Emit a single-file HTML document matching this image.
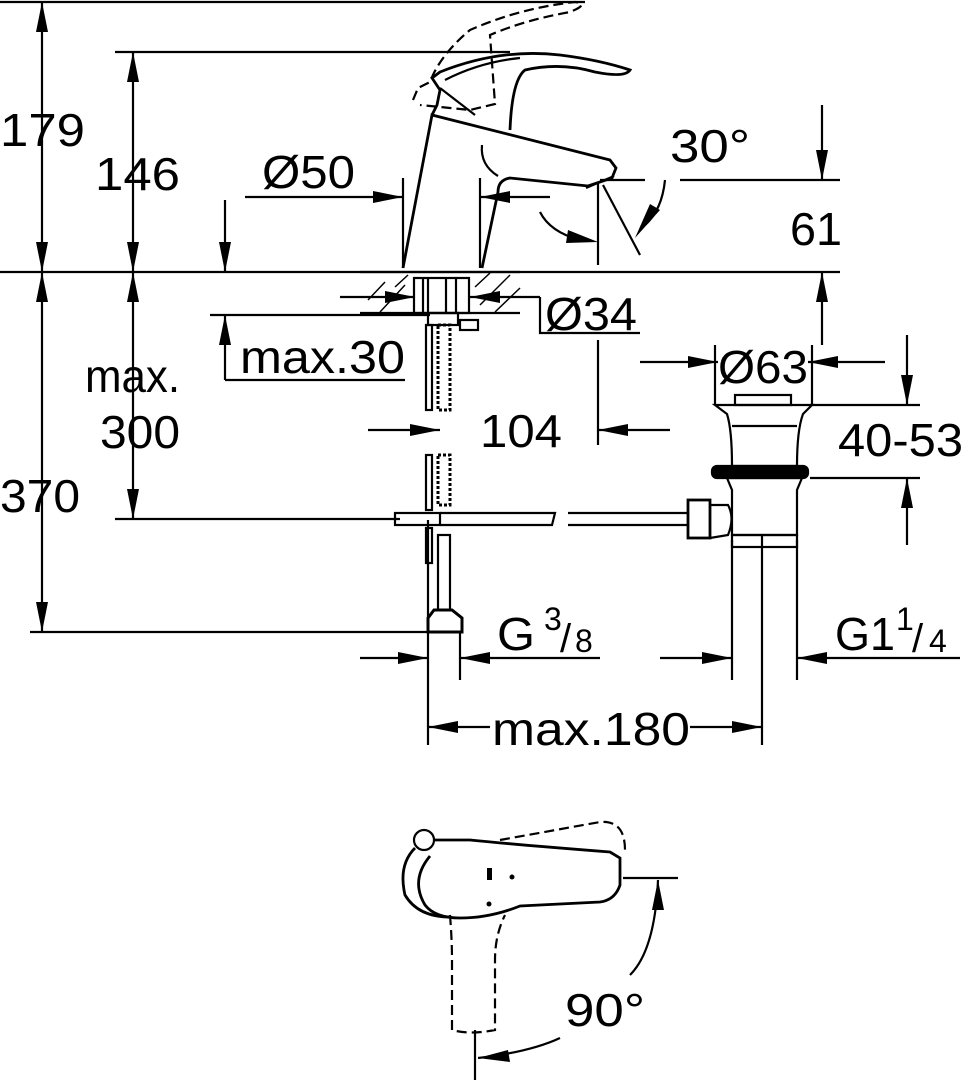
<!DOCTYPE html>
<html><head><meta charset="utf-8"><style>
html,body{margin:0;padding:0;background:#fff}
svg{display:block}
text{font-family:"Liberation Sans",sans-serif;fill:#000}
</style></head><body>
<svg width="963" height="1080" viewBox="0 0 963 1080" xmlns="http://www.w3.org/2000/svg">
<g stroke="#000" stroke-width="2.2" fill="none">
<line x1="0" y1="2" x2="585" y2="2"/>
<line x1="115" y1="52" x2="510" y2="52"/>
<line x1="0" y1="272" x2="840" y2="272"/>
<line x1="30" y1="632" x2="440" y2="632"/>
<line x1="115" y1="519" x2="400" y2="519"/>
<line x1="42" y1="2" x2="42" y2="632"/>
<line x1="133" y1="52" x2="133" y2="519"/>
<line x1="225" y1="200" x2="225" y2="272"/>
<line x1="225" y1="315" x2="225" y2="380"/>
<line x1="210" y1="315" x2="430" y2="315"/>
<line x1="225" y1="380" x2="405" y2="380"/>
<line x1="245" y1="197" x2="403" y2="197"/>
<line x1="480" y1="197" x2="550" y2="197"/>
<line x1="403" y1="178" x2="403" y2="268"/>
<line x1="480" y1="178" x2="480" y2="268"/>
<line x1="340" y1="297" x2="415" y2="297"/>
<line x1="470" y1="297" x2="540" y2="297"/>
<polyline points="540,297 540,333 640,333"/>
<line x1="360" y1="313" x2="520" y2="313"/>
<line x1="600" y1="180" x2="645" y2="180"/>
<line x1="680" y1="180" x2="840" y2="180"/>
<line x1="822" y1="105" x2="822" y2="180"/>
<line x1="822" y1="272" x2="822" y2="345"/>
<line x1="598" y1="182" x2="598" y2="265"/>
<line x1="603" y1="185" x2="640" y2="255"/>
<path d="M665,180 Q662,210 645,225"/>
<path d="M540,212 Q550,232 580,240"/>
<line x1="368" y1="430" x2="440" y2="430"/>
<line x1="598" y1="430" x2="670" y2="430"/>
<line x1="598" y1="340" x2="598" y2="445"/>
<line x1="640" y1="362" x2="718" y2="362"/>
<line x1="808" y1="362" x2="885" y2="362"/>
<line x1="715" y1="345" x2="715" y2="405"/>
<line x1="812" y1="345" x2="812" y2="405"/>
<line x1="810" y1="405" x2="920" y2="405"/>
<line x1="810" y1="478" x2="920" y2="478"/>
<line x1="907" y1="335" x2="907" y2="405"/>
<line x1="907" y1="478" x2="907" y2="545"/>
<line x1="360" y1="658" x2="428" y2="658"/>
<line x1="460" y1="658" x2="600" y2="658"/>
<line x1="428" y1="520" x2="428" y2="745"/>
<line x1="460" y1="632" x2="460" y2="680"/>
<line x1="660" y1="658" x2="732" y2="658"/>
<line x1="797" y1="658" x2="960" y2="658"/>
<line x1="732" y1="540" x2="732" y2="680"/>
<line x1="797" y1="540" x2="797" y2="680"/>
<line x1="762" y1="535" x2="762" y2="745"/>
<line x1="428" y1="727" x2="490" y2="727"/>
<line x1="690" y1="727" x2="762" y2="727"/>

<path d="M403,268 L432,115 L610,160 L616,168 L612,178 L588,186 L510,178 Q498,180 498,192 L482,268" stroke-width="2.8"/>
<path d="M482,145 Q480,165 498,176"/>
<path d="M586,188 L614,176"/>
<path d="M432,115 L437,105 L440,90 L432,78 L440,72 Q500,48 560,55 Q600,60 630,70 Q625,78 595,72 Q560,62 525,70 Q512,80 510,130" stroke-width="2.8"/>
<path d="M440,88 L475,115"/>
<path d="M445,80 Q480,62 520,58"/>
<path d="M413,100 L418,88 L430,82 Q440,55 470,30 Q520,8 575,2 Q590,4 570,12 Q525,20 490,35 L495,104 L470,110 L420,105" stroke-dasharray="10,5"/>
<line x1="360" y1="272" x2="520" y2="272"/>
<g stroke-width="1.5">
<line x1="368" y1="300" x2="385" y2="282"/><line x1="380" y1="312" x2="405" y2="285"/>
<line x1="395" y1="287" x2="408" y2="275"/><line x1="475" y1="287" x2="490" y2="273"/>
<line x1="480" y1="305" x2="510" y2="275"/><line x1="495" y1="312" x2="520" y2="288"/>
</g>
<rect x="414" y="278" width="55" height="35"/>
<line x1="423" y1="278" x2="423" y2="313"/><line x1="428" y1="278" x2="428" y2="313"/>
<line x1="446" y1="278" x2="446" y2="313"/><line x1="456" y1="278" x2="456" y2="313"/>
<rect x="428" y="313" width="30" height="12"/>
<rect x="460" y="320" width="18" height="10"/>
<rect x="426" y="325" width="6" height="85"/>
<rect x="438" y="325" width="12" height="85" stroke-dasharray="3,2" stroke-width="3"/>
<rect x="426" y="455" width="6" height="55"/>
<rect x="438" y="455" width="12" height="50" stroke-dasharray="3,2" stroke-width="3"/>
<rect x="426" y="528" width="6" height="35"/>
<rect x="438" y="535" width="12" height="75"/>
<path d="M434,610 L452,610 L462,618 L462,632 L428,632 L428,618 Z" stroke-width="3"/>
<rect x="395" y="513" width="45" height="12"/>
<polyline points="440,513 555,513 552,525 440,525"/>
<polyline points="568,513 688,513 688,525 568,525"/>
<rect x="688" y="500" width="22" height="38" stroke-width="2.8"/>
<path d="M710,505 L728,505 Q735,518 728,535 L710,538"/>
<rect x="735" y="395" width="56" height="10"/>
<path d="M715,405 L812,405 L803,414 Q797,430 797,466 L732,466 Q732,430 727,414 Z"/>
<line x1="732" y1="426" x2="797" y2="426"/>
<rect x="712" y="466" width="96" height="12" rx="5" fill="#000"/>
<path d="M727,478 L802,478 L797,490 L797,535 L732,535 L732,490 Z"/>
<rect x="732" y="535" width="65" height="12"/>
<circle cx="424" cy="840" r="10"/>
<path d="M434,840 L470,840 Q520,845 610,852 L620,858 L620,885 Q615,900 600,902 L520,906 Q490,918 460,918 Q435,918 425,905 Q410,880 430,856" stroke-width="2.8"/>
<path d="M415,848 Q398,865 405,895 Q418,917 450,917" stroke-width="2.8"/>
<path d="M500,840 L600,822 Q625,820 625,850" stroke-dasharray="10,5"/>
<path d="M450,915 Q452,940 452,960 L452,1030 Q470,1035 495,1030 L495,960 Q495,935 505,915" stroke-dasharray="10,5"/>
<line x1="623" y1="878" x2="678" y2="878"/>
<path d="M658,880 Q655,950 630,975"/>
<line x1="475" y1="1030" x2="475" y2="1080"/>
<path d="M478,1058 Q530,1052 560,1038"/>
</g>
<g fill="#000" stroke="none">
<polygon points="42,2 36,32 48,32"/><polygon points="42,272 36,242 48,242"/>
<polygon points="42,272 36,302 48,302"/><polygon points="42,632 36,602 48,602"/>
<polygon points="133,52 127,82 139,82"/><polygon points="133,272 127,242 139,242"/>
<polygon points="133,272 127,302 139,302"/><polygon points="133,519 127,489 139,489"/>
<polygon points="225,272 219,242 231,242"/><polygon points="225,315 219,345 231,345"/>
<polygon points="403,197 373,191 373,203"/><polygon points="480,197 510,191 510,203"/>
<polygon points="415,297 385,291 385,303"/><polygon points="470,297 500,291 500,303"/>
<polygon points="822,180 816,150 828,150"/><polygon points="822,272 816,302 828,302"/>
<polygon points="598,242 568,230 566,243"/><polygon points="635,238 660,210 650,204"/>
<polygon points="440,430 410,424 410,436"/><polygon points="598,430 628,424 628,436"/>
<polygon points="718,362 688,356 688,368"/><polygon points="808,362 838,356 838,368"/>
<polygon points="907,405 901,375 913,375"/><polygon points="907,478 901,508 913,508"/>
<polygon points="428,658 398,652 398,664"/><polygon points="460,658 490,652 490,664"/>
<polygon points="732,658 702,652 702,664"/><polygon points="797,658 827,652 827,664"/>
<polygon points="428,727 458,721 458,733"/><polygon points="762,727 732,721 732,733"/>
<polygon points="658,880 652,910 664,910"/><polygon points="478,1058 508,1050 510,1062"/>
<rect x="487" y="868" width="5" height="12"/><circle cx="512" cy="877" r="2.5"/><circle cx="489" cy="904" r="2.5"/>
</g>
<g font-size="46">
<text x="0" y="146" textLength="85" lengthAdjust="spacingAndGlyphs">179</text>
<text x="95" y="190" textLength="85" lengthAdjust="spacingAndGlyphs">146</text>
<text x="262" y="188" textLength="93" lengthAdjust="spacingAndGlyphs">Ø50</text>
<text x="670" y="162" textLength="80" lengthAdjust="spacingAndGlyphs">30°</text>
<text x="790" y="245" textLength="52" lengthAdjust="spacingAndGlyphs">61</text>
<text x="545" y="330" textLength="92" lengthAdjust="spacingAndGlyphs">Ø34</text>
<text x="240" y="373" textLength="165" lengthAdjust="spacingAndGlyphs">max.30</text>
<text x="85" y="392" textLength="95" lengthAdjust="spacingAndGlyphs">max.</text>
<text x="100" y="448" textLength="80" lengthAdjust="spacingAndGlyphs">300</text>
<text x="480" y="447" textLength="82" lengthAdjust="spacingAndGlyphs">104</text>
<text x="718" y="383" textLength="90" lengthAdjust="spacingAndGlyphs">Ø63</text>
<text x="838" y="456" textLength="125" lengthAdjust="spacingAndGlyphs">40-53</text>
<text x="0" y="512" textLength="80" lengthAdjust="spacingAndGlyphs">370</text>
<text x="497" y="650" textLength="38" lengthAdjust="spacingAndGlyphs">G</text>
<text x="544" y="630" font-size="32">3</text>
<text x="560" y="652" font-size="40">/</text>
<text x="575" y="652" font-size="32">8</text>
<text x="835" y="650" textLength="60" lengthAdjust="spacingAndGlyphs">G1</text>
<text x="896" y="630" font-size="32">1</text>
<text x="912" y="652" font-size="40">/</text>
<text x="929" y="652" font-size="32">4</text>
<text x="492" y="745" textLength="198" lengthAdjust="spacingAndGlyphs">max.180</text>
<text x="565" y="1026" textLength="80" lengthAdjust="spacingAndGlyphs">90°</text>
</g>
</svg>
</body></html>
